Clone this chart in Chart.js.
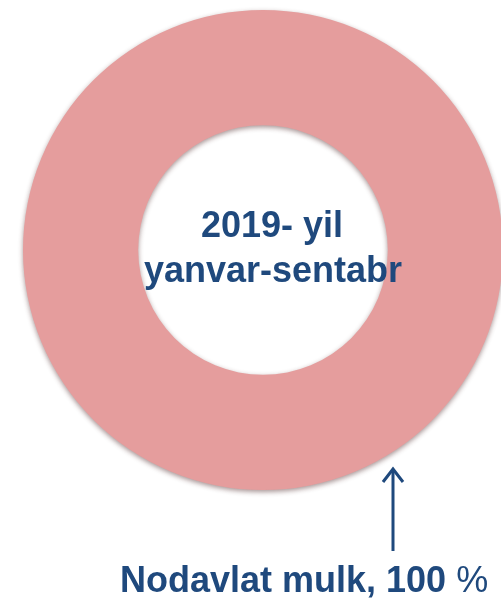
<!DOCTYPE html>
<html>
<head>
<meta charset="utf-8">
<script src="https://cdn.jsdelivr.net/npm/chart.js@4"></script>
<style>
  html, body { margin: 0; padding: 0; background: #fff; overflow: hidden; }
  #wrap { position: relative; width: 501px; height: 599px; overflow: hidden; }
  #chart { position: absolute; left: 0; top: 0; }
  .lbl {
    position: absolute;
    font-family: "Liberation Sans", Arial, sans-serif;
    font-weight: bold;
    color: #1F497D;
    white-space: nowrap;
    line-height: 36px;
    font-size: 36px;
  }
  .pct { font-weight: normal; }
</style>
</head>
<body>
<div id="wrap">
  <canvas id="chart" width="526" height="599"></canvas>
  <div class="lbl" id="center1" style="left:0; width:544px; text-align:center; top:207px;">2019- yil</div>
  <div class="lbl" id="center2" style="left:0; width:546px; text-align:center; top:252px;">yanvar-sentabr</div>
  <div class="lbl" id="bottom" style="left:120px; top:562px;">Nodavlat mulk, 100 <span class="pct">%</span></div>
</div>
<script>
// Donut data
const labels = ['Nodavlat mulk'];
const values = [100];
const colors = ['#E59D9D'];

// shadow + arrow pointing at the ring
const ringShadow = {
  id: 'ringShadow',
  beforeDatasetDraw(chart) {
    const ctx = chart.ctx;
    ctx.save();
    ctx.shadowColor = 'rgba(60,20,20,0.45)';
    ctx.shadowBlur = 5;
    ctx.shadowOffsetY = 2;
  },
  afterDatasetDraw(chart) {
    chart.ctx.restore();
  }
};

const arrow = {
  id: 'arrow',
  afterDraw(chart) {
    const ctx = chart.ctx;
    const x = 393, yTip = 468, yEnd = 551;
    ctx.save();
    ctx.strokeStyle = '#1F497D';
    ctx.lineWidth = 3;
    ctx.beginPath();
    ctx.moveTo(x, yTip + 1);
    ctx.lineTo(x, yEnd);
    ctx.stroke();
    ctx.beginPath();
    ctx.moveTo(x - 10, yTip + 14);
    ctx.lineTo(x, yTip + 1);
    ctx.lineTo(x + 10, yTip + 14);
    ctx.stroke();
    ctx.restore();
  }
};

new Chart(document.getElementById('chart'), {
  type: 'doughnut',
  data: {
    labels: labels,
    datasets: [{
      data: values,
      backgroundColor: colors,
      borderWidth: 0
    }]
  },
  options: {
    responsive: false,
    animation: false,
    cutout: '52%',
    layout: { padding: { left: 10, right: 10, top: 10, bottom: 109 } },
    plugins: {
      legend: { display: false },
      tooltip: { enabled: false }
    }
  },
  plugins: [ringShadow, arrow]
});
</script>
</body>
</html>
